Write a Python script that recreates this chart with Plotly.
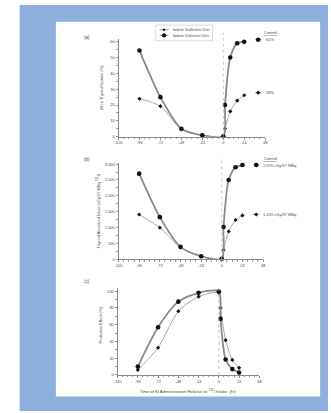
import plotly.graph_objects as go

# ---------------- data ----------------
times = [-96, -72, -48, -24, 0, 2, 8, 16, 24]
uptake_sufficient = [24.0, 19.3, 4.6, 0.9, 0.3, 5.2, 16.0, 22.8, 26.2]
uptake_deficient = [54.4, 25.0, 5.0, 0.9, 0.3, 20.0, 50.0, 59.0, 60.0]
dose_sufficient = [1415, 1000, 380, 95, 20, 300, 880, 1240, 1385]
dose_deficient = [2700, 1330, 395, 100, 20, 1020, 2500, 2900, 2970]
protect_sufficient = [6.0, 32.5, 76.0, 93.5, 98.0, 80.0, 41.5, 18.0, 8.5]
protect_deficient = [10.0, 57.0, 87.5, 98.0, 99.5, 67.0, 18.5, 7.0, 2.8]

control_uptake = {"sufficient": 27.8, "deficient": 61.2}
control_uptake_text = {"sufficient": "28%", "deficient": "61%"}
control_dose = {"sufficient": 1415, "deficient": 2970}
control_dose_text = {"sufficient": "1,420 cGy/37 MBq", "deficient": "2,970 cGy/37 MBq"}

x_ticks = [-120, -96, -72, -48, -24, 0, 24, 48]
legend_labels = ["Iodine Sufficient Diet", "Iodine Deficient Diet"]

W, H = 331, 413
FONT = "Arial, Liberation Sans, sans-serif"
TXT = "#4a4a4a"


def px(p):
    return p / W


def py(p):
    return 1 - p / H


fig = go.Figure()

panels = [
    ("x", "y", uptake_sufficient, uptake_deficient),
    ("x2", "y2", dose_sufficient, dose_deficient),
    ("x3", "y3", protect_sufficient, protect_deficient),
]

SUF_SIZE, DEF_SIZE = 3.2, 4.6

for xa, ya, suf, dfc in panels:
    fig.add_trace(go.Scatter(
        x=times, y=suf, xaxis=xa, yaxis=ya, mode="lines+markers",
        line=dict(color="#a8a8a8", width=1, shape="spline", smoothing=0.75),
        marker=dict(symbol="diamond", size=SUF_SIZE, color="#111"),
        showlegend=False, hoverinfo="skip", cliponaxis=False))
    fig.add_trace(go.Scatter(
        x=times, y=dfc, xaxis=xa, yaxis=ya, mode="lines+markers",
        line=dict(color="#8a8a8a", width=1.8, shape="spline", smoothing=0.75),
        marker=dict(symbol="circle", size=DEF_SIZE, color="#111"),
        showlegend=False, hoverinfo="skip", cliponaxis=False))

# control markers (legend-like symbols) in panels a and b
ctrl_seg = [36.5, 43.5]
ctrl_mid = [40]
for xa, ya, ctrl in [("x", "y", control_uptake), ("x2", "y2", control_dose)]:
    for key, size, sym in [("sufficient", SUF_SIZE, "diamond"), ("deficient", DEF_SIZE, "circle")]:
        v = ctrl[key]
        fig.add_trace(go.Scatter(
            x=ctrl_seg, y=[v, v], xaxis=xa, yaxis=ya, mode="lines",
            line=dict(color="#777", width=0.8),
            showlegend=False, hoverinfo="skip", cliponaxis=False))
        fig.add_trace(go.Scatter(
            x=ctrl_mid, y=[v], xaxis=xa, yaxis=ya, mode="markers",
            marker=dict(symbol=sym, size=size, color="#111"),
            showlegend=False, hoverinfo="skip", cliponaxis=False))

annotations = []
for key in ["sufficient", "deficient"]:
    annotations.append(dict(x=47, y=control_uptake[key], xref="x", yref="y",
                            text=control_uptake_text[key], showarrow=False,
                            xanchor="left", font=dict(size=4, color=TXT, family=FONT)))
    annotations.append(dict(x=45, y=control_dose[key], xref="x2", yref="y2",
                            text=control_dose_text[key], showarrow=False,
                            xanchor="left", font=dict(size=4, color=TXT, family=FONT)))

# static texts
def txt(x, y, s, size=4.2, angle=0, anchor="center"):
    annotations.append(dict(x=px(x), y=py(y), xref="paper", yref="paper", text=s,
                            showarrow=False, textangle=angle, xanchor=anchor,
                            yanchor="middle", font=dict(size=size, color=TXT, family=FONT)))

txt(85, 37, "(a)", 4.5)
txt(85, 160, "(b)", 4.5)
txt(85, 283, "(c)", 4.5)
txt(272, 31.5, "<u>Control</u>", 4)
txt(272, 158.5, "<u>Control</u>", 4)
txt(99, 87, "24-hr Thyroid Uptake (%)", 4, -90)
txt(97, 211, "Thyroid Absorbed Dose (cGy/37 MBq <sup>131</sup>I)", 4, -90)
txt(99, 326, "Protective Effect (%)", 4, -90)
txt(188, 392.5, "Time of KI Administration Relative to <sup>131</sup>I Intake  (hr)", 4.2)
txt(171, 29, legend_labels[0], 4, 0, "left")
txt(171, 34.6, legend_labels[1], 4, 0, "left")

shapes = [
    dict(type="rect", xref="paper", yref="paper", x0=px(16), x1=1, y0=0, y1=py(4),
         fillcolor="#8fafdd", line=dict(width=0), layer="below"),
    dict(type="rect", xref="paper", yref="paper", x0=px(53), x1=px(323), y0=py(398.5), y1=py(21),
         fillcolor="white", line=dict(width=0), layer="below"),
    # legend box
    dict(type="rect", xref="paper", yref="paper", x0=px(155), x1=px(213), y0=py(40), y1=py(24.3),
         fillcolor="white", line=dict(color="#c8c8c8", width=0.7)),
    dict(type="line", xref="paper", yref="paper", x0=px(159), x1=px(168), y0=py(29), y1=py(29),
         line=dict(color="#777", width=0.8)),
    dict(type="line", xref="paper", yref="paper", x0=px(159), x1=px(168), y0=py(34.6), y1=py(34.6),
         line=dict(color="#777", width=0.8)),
    dict(type="path", xref="paper", yref="paper",
         path=f"M {px(163.5)},{py(27.5)} L {px(165)},{py(29)} L {px(163.5)},{py(30.5)} L {px(162)},{py(29)} Z",
         fillcolor="#111", line=dict(width=0)),
    dict(type="circle", xref="paper", yref="paper", x0=px(161.3), x1=px(165.7), y0=py(36.8), y1=py(32.4),
         fillcolor="#111", line=dict(width=0)),
]

# vertical dotted lines at t = 0
for xa, ytop, ybot in [("x", 32, 136.7), ("x2", 157, 260.3), ("x3", 287, 376.7)]:
    shapes.append(dict(type="line", xref=xa, yref="paper", x0=0, x1=0, y0=py(ybot), y1=py(ytop),
                       line=dict(color="#b5b5b5", width=0.8, dash="dot")))

axis_common = dict(showline=True, linecolor="#8a8a8a", linewidth=0.8, ticks="outside",
                   ticklen=2, tickwidth=0.6, tickcolor="#8a8a8a", showgrid=False, zeroline=False,
                   tickfont=dict(size=4, color=TXT, family=FONT))

def xaxis(left, zero, anchor):
    per24 = (zero - left) / 5
    right = zero + 2 * per24
    d = dict(axis_common)
    d.update(domain=[px(left), px(right)], range=[-120, 48], tickvals=x_ticks,
             ticktext=[str(v) for v in x_ticks], anchor=anchor,
             minor=dict(dtick=6, ticklen=1.2, tickwidth=0.5, tickcolor="#9a9a9a", ticks="outside"))
    return d

def yaxis(bottom, top_px, top_val, rng, dtick, anchor, fmt=None):
    d = dict(axis_common)
    scale = (bottom - top_px) / top_val
    top = bottom - rng[1] * scale
    d.update(domain=[py(bottom), py(top)], range=rng, dtick=dtick, tick0=0, anchor=anchor,
             minor=dict(dtick=dtick / 2, ticklen=1.2, tickwidth=0.5, tickcolor="#9a9a9a", ticks="outside"))
    if fmt:
        d["tickformat"] = fmt
    return d

fig.update_layout(
    width=W, height=H, margin=dict(l=0, r=0, t=0, b=0),
    paper_bgcolor="white", plot_bgcolor="rgba(0,0,0,0)",
    xaxis=xaxis(117, 224, "y"),
    yaxis=yaxis(136.7, 41, 60, [0, 62], 10, "x"),
    xaxis2=xaxis(117, 222.5, "y2"),
    yaxis2=yaxis(260.3, 164.3, 3000, [0, 3050], 500, "x2", ","),
    xaxis3=xaxis(116, 219.5, "y3"),
    yaxis3=yaxis(376.7, 292.3, 100, [0, 104], 20, "x3"),
    shapes=shapes, annotations=annotations, showlegend=False,
)

fig.write_html("out.html")
